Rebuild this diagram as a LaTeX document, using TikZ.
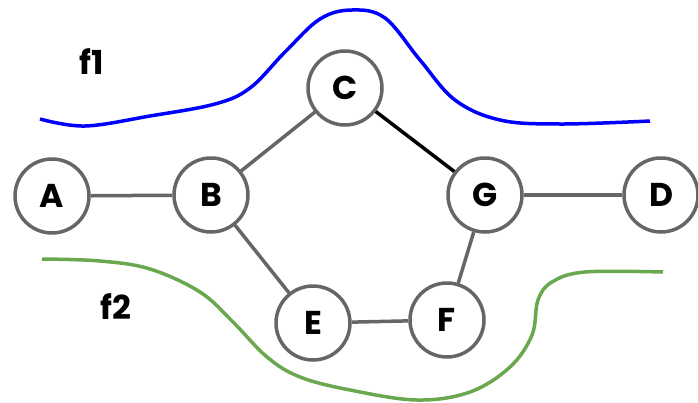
\documentclass[tikz,border=0pt]{standalone}
\usepackage{fontspec}
\setmainfont{Poppins}
\usepackage{tikz}
\definecolor{edgegray}{HTML}{666666}
\definecolor{cutgreen}{HTML}{6AA84F}
\tikzstyle{vertex} = [draw=edgegray, fill=white, line width=3.5pt,
    circle, minimum size=74pt, inner sep=0pt, font=\fontsize{33}{37}\selectfont\bfseries]
\tikzstyle{edge} = [draw=edgegray, line width=3.5pt]
\tikzstyle{cutlabel} = [font=\fontsize{33}{37}\selectfont\bfseries]

\begin{document}
\begin{tikzpicture}[x=1pt, y=-1pt]
                \useasboundingbox (0,0) rectangle (698,402);
                % cut curves
                \draw[blue, line width=3.5pt] plot[smooth, tension=0.6] coordinates
                    {(40,119) (85,126) (150,116) (215,104) (250,88) (285,52) (320,19) (352,10) (385,18) (420,60) (455,100) (500,120) (560,124) (650,121)};
                \draw[cutgreen, line width=3.5pt] plot[smooth, tension=0.6] coordinates
                    {(42,259) (100,261) (150,269) (200,292) (233,322) (267,357) (300,377) (350,390) (417,400) (470,392) (510,367) (532,335) (538,300) (552,282) (585,272) (663,272)};
                % vertices
                \node[vertex] (A) at (52,196) {A};
                \node[vertex] (B) at (211,195) {B};
                \node[vertex] (C) at (345,88) {C};
                \node[vertex] (G) at (485,195) {G};
                \node[vertex] (D) at (661,195) {D};
                \node[vertex] (E) at (313,323) {E};
                \node[vertex] (F) at (447,320) {F};
                % edges
                \draw[edge] (A) -- (B);
                \draw[edge] (B) -- (C);
                \draw[black, line width=3.5pt] (C) -- (G);
                \draw[edge] (G) -- (D);
                \draw[edge] (B) -- (E);
                \draw[edge] (E) -- (F);
                \draw[edge] (F) -- (G);
                % labels
                \node[cutlabel] (f1) at (92,62) {f1};
                \node[cutlabel] (f2) at (116,307) {f2};
            \end{tikzpicture}
\end{document}
